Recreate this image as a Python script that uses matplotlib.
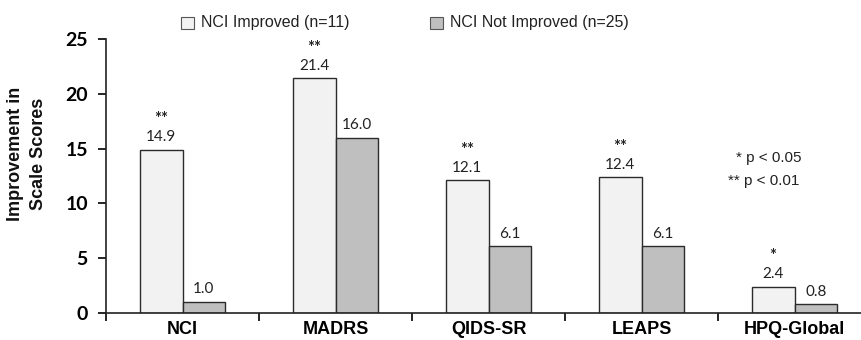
import matplotlib
matplotlib.use("Agg")
import matplotlib.pyplot as plt
import numpy as np
from matplotlib.patches import Rectangle

categories = ["NCI", "MADRS", "QIDS-SR", "LEAPS", "HPQ-Global"]
improved = [14.9, 21.4, 12.1, 12.4, 2.4]
not_improved = [1.0, 16.0, 6.1, 6.1, 0.8]
stars = ["**", "**", "**", "**", "*"]
legend_labels = ["NCI Improved (n=11)", "NCI Not Improved (n=25)"]
yticks = [0, 5, 10, 15, 20, 25]

c_imp = "#f2f2f2"
c_not = "#bfbfbf"
edge = "#2b2b2b"
num_font = "Lato"
lab_font = "Liberation Sans"

fig = plt.figure(figsize=(8.61, 3.40), dpi=100)
# axes spans x pixels 106..871 and y pixels 39..313
ax = fig.add_axes([106 / 861, 1 - 313 / 340, 765 / 861, 274 / 340])
ax.set_xlim(-0.5, 4.5)
ax.set_ylim(0, 25)

x = np.arange(len(categories))
w = 0.28
ax.bar(x - w / 2, improved, w, color=c_imp, edgecolor=edge, linewidth=1.0)
ax.bar(x + w / 2, not_improved, w, color=c_not, edgecolor=edge, linewidth=1.0)

for i in range(len(categories)):
    ax.annotate(f"{improved[i]:.1f}", (x[i] - w / 2, improved[i]), xytext=(0, 4),
                textcoords="offset points", ha="center", va="bottom",
                fontsize=11, family=num_font, color="#222222")
    ax.annotate(stars[i], (x[i] - w / 2, improved[i]), xytext=(0, 16),
                textcoords="offset points", ha="center", va="bottom",
                fontsize=12, family=num_font, fontweight="bold", color="#222222")
    ax.annotate(f"{not_improved[i]:.1f}", (x[i] + w / 2, not_improved[i]), xytext=(0, 4),
                textcoords="offset points", ha="center", va="bottom",
                fontsize=11, family=num_font, color="#222222")

for s in ["top", "right"]:
    ax.spines[s].set_visible(False)
for s in ["left", "bottom"]:
    ax.spines[s].set_linewidth(1.2)
    ax.spines[s].set_color("#222222")

ax.set_yticks(yticks)
ax.set_yticklabels([str(t) for t in yticks], family=num_font, fontweight="bold", fontsize=14)
ax.tick_params(axis="y", length=6, width=1.2, pad=7)
ax.set_xticks(np.arange(-0.5, 4.6, 1.0), minor=False)
ax.set_xticklabels([])
ax.tick_params(axis="x", which="major", length=6, width=1.2, direction="out")
ax.set_xticks(x, minor=True)
ax.set_xticklabels(categories, minor=True, family=lab_font, fontweight="bold", fontsize=13)
ax.tick_params(axis="x", which="minor", length=0, pad=6)

# y-axis title, placed a bit above the axes centre as in the original
fig.text(27 / 861, 1 - 154 / 340, "Improvement in\nScale Scores", family=lab_font,
         fontweight="bold", fontsize=13, rotation=90, ha="center", va="center",
         multialignment="center", linespacing=1.4, color="#111111")

# p-value key
fig.text(736 / 861, 1 - 158 / 340, "* p < 0.05", family=lab_font, fontsize=11,
         va="center", ha="left", color="#222222")
fig.text(728 / 861, 1 - 181 / 340, "** p < 0.01", family=lab_font, fontsize=11,
         va="center", ha="left", color="#222222")

# legend
for lx, col, lab in [(181, c_imp, legend_labels[0]), (430, c_not, legend_labels[1])]:
    fig.patches.append(Rectangle((lx / 861, 1 - 29 / 340), 13 / 861, 12 / 340,
                                 transform=fig.transFigure, facecolor=col,
                                 edgecolor="#555555", linewidth=0.8))
    fig.text((lx + 20) / 861, 1 - 23 / 340, lab, family=lab_font, fontsize=11.5,
             va="center", ha="left", color="#222222")

plt.savefig("out.png", dpi=100)
